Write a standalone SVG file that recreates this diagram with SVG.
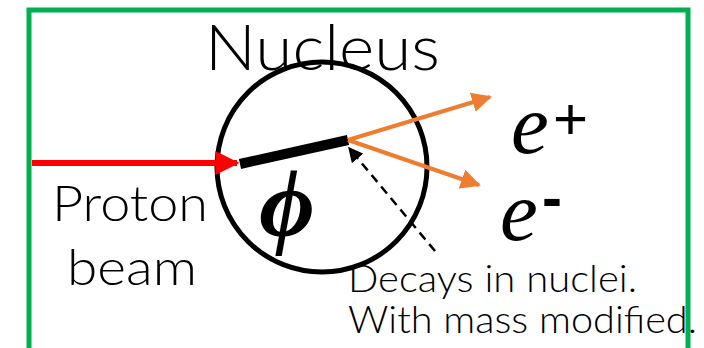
<svg xmlns="http://www.w3.org/2000/svg" width="704" height="348" viewBox="0 0 704 348">
<style>
.sans{font-family:"Lato","Noto Sans","DejaVu Sans",sans-serif;font-weight:300;fill:#000}
.math{font-family:"Liberation Serif","DejaVu Serif",serif;font-style:italic;fill:#000}
.sup{font-family:"Liberation Sans","Arial",sans-serif;fill:#000}
</style>
<defs>
<marker id="ar" viewBox="0 0 10 10" refX="9" refY="5" markerWidth="4" markerHeight="4" orient="auto" markerUnits="strokeWidth"><path d="M0,0L10,5L0,10z" fill="#ff0000"/></marker>
<marker id="ao" viewBox="0 0 10 10" refX="9" refY="5" markerWidth="5" markerHeight="5" orient="auto" markerUnits="strokeWidth"><path d="M0,0L10,5L0,10z" fill="#ed7d31"/></marker>
<marker id="ak" viewBox="0 0 10 10" refX="9" refY="5" markerWidth="6" markerHeight="6" orient="auto" markerUnits="strokeWidth"><path d="M0,0L10,5L0,10z" fill="#000"/></marker>
</defs>
<rect width="704" height="348" fill="#fff"/>
<rect x="29" y="10" width="659" height="360" fill="none" stroke="#00b050" stroke-width="5"/>
<g id="nucleus">
<circle cx="322" cy="167" r="105" fill="none" stroke="#000" stroke-width="5"/>
<text class="sans" x="205" y="70" font-size="64" textLength="235" lengthAdjust="spacingAndGlyphs">Nucleus</text>
</g>
<g id="connectors">
<line x1="32" y1="163" x2="237" y2="163" stroke="#ff0000" stroke-width="6" marker-end="url(#ar)"/>
<line x1="240" y1="164" x2="348" y2="140" stroke="#000" stroke-width="10"/>
<line x1="348" y1="140" x2="490" y2="97" stroke="#ed7d31" stroke-width="4" marker-end="url(#ao)"/>
<line x1="348" y1="140" x2="479" y2="185" stroke="#ed7d31" stroke-width="4" marker-end="url(#ao)"/>
<line x1="435" y1="251" x2="349" y2="148" stroke="#000" stroke-width="2.5" stroke-dasharray="9,6" marker-end="url(#ak)"/>
</g>
<g id="proton">
<text class="sans" x="52" y="221" font-size="50" textLength="156" lengthAdjust="spacingAndGlyphs">Proton</text>
<text class="sans" x="67" y="285" font-size="50" textLength="130" lengthAdjust="spacingAndGlyphs">beam</text>
</g>
<g id="phi">
<text class="math" x="287" y="236" font-size="96" font-weight="bold" text-anchor="middle">ϕ</text>
</g>
<g id="positron">
<text class="math" x="511" y="153" font-size="85">e</text>
<text class="sup" x="553" y="139" font-size="60">+</text>
</g>
<g id="electron">
<text class="math" x="500" y="240" font-size="85">e</text>
<text class="sup" x="542" y="218" font-size="60" font-weight="bold">-</text>
</g>
<g id="note">
<text class="sans" x="348" y="292" font-size="37" textLength="289" lengthAdjust="spacingAndGlyphs">Decays in nuclei.</text>
<text class="sans" x="348" y="333" font-size="37" textLength="349" lengthAdjust="spacingAndGlyphs">With mass modified.</text>
</g>
</svg>
